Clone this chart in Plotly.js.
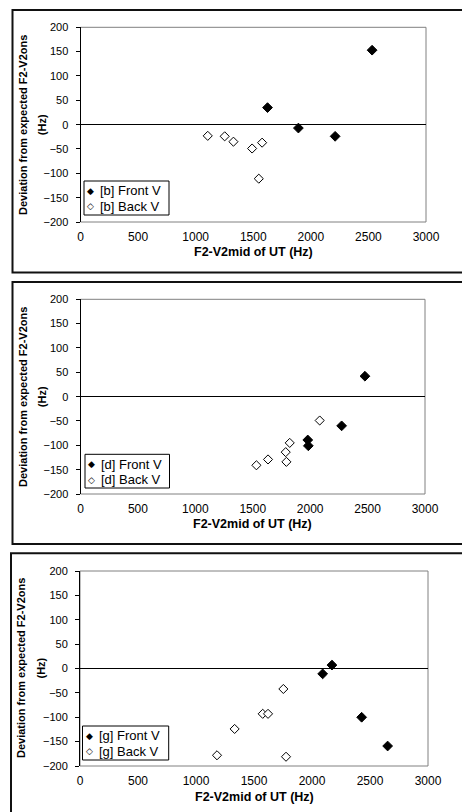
<!DOCTYPE html>
<html><head><meta charset="utf-8">
<script src="https://cdn.plot.ly/plotly-3.0.1.min.js"></script>
<style>html,body{margin:0;padding:0;background:#fff}#chart{width:462px;height:812px}</style>
</head><body><div id="chart"></div>
<script>
// ---- data ----
const xTickVals = [0, 500, 1000, 1500, 2000, 2500, 3000];
const yTickVals = [-200, -150, -100, -50, 0, 50, 100, 150, 200];
const frontNames = ["[b] Front V", "[d] Front V", "[g] Front V"];
const backNames = ["[b] Back V", "[d] Back V", "[g] Back V"];
const bFrontX = [1624, 1892, 2211, 2532];
const bFrontY = [35, -7, -24, 153];
const bBackX = [1105, 1252, 1328, 1490, 1577, 1548];
const bBackY = [-23, -24, -35, -49, -37, -111];
const dFrontX = [2477, 2274, 1979, 1984];
const dFrontY = [42, -60, -89, -101];
const dBackX = [2083, 1822, 1787, 1793, 1633, 1532];
const dBackY = [-49, -95, -114, -134, -129, -141];
const gFrontX = [2092, 2172, 2428, 2652];
const gFrontY = [-11, 7, -100, -159];
const gBackX = [1753, 1575, 1621, 1333, 1181, 1776];
const gBackY = [-42, -93, -93, -124, -178, -181];
const yTitleLine1 = "Deviation from expected F2-V2ons";
const yTitleLine2 = "(Hz)";
const xTitle = "F2-V2mid of UT (Hz)";

// ---- layout geometry (pixels) ----
const W = 462, H = 812;
const px = v => v / W, py = v => 1 - v / H;
const panels = [
  {fx: bFrontX, fy: bFrontY, bx: bBackX, by: bBackY,
   plot: [80.5, 426, 27.3, 222], frame: [12.5, 10, 272.5], leg: [84, 181, 169, 215], xt: 252, yt1: 22.3, yt2: 41.5},
  {fx: dFrontX, fy: dFrontY, bx: dBackX, by: dBackY,
   plot: [80.5, 425, 299.3, 494], frame: [12.5, 282, 544], leg: [85, 454.3, 169.5, 488], xt: 523.5, yt1: 22.3, yt2: 41.5},
  {fx: gFrontX, fy: gFrontY, bx: gBackX, by: gBackY,
   plot: [80, 428, 571, 766], frame: [11, 553.3, 816], leg: [82.5, 726, 168.7, 760], xt: 797, yt1: 20.5, yt2: 40}
];

const FONT = "Liberation Sans, Arial, sans-serif";
const traces = [], shapes = [], annotations = [];
const layout = {
  width: W, height: H, margin: {l: 0, r: 0, t: 0, b: 0},
  paper_bgcolor: "#fff", plot_bgcolor: "#fff", showlegend: false,
  font: {family: FONT, color: "#000"}
};

panels.forEach((p, i) => {
  const n = i === 0 ? "" : String(i + 1);
  const xa = "x" + n, ya = "y" + n;
  const [l, r, t, b] = p.plot;
  layout["xaxis" + n] = {
    domain: [px(l), px(r)], range: [0, 3000], anchor: ya,
    tickvals: xTickVals, ticks: "", showgrid: false, zeroline: false, showline: false,
    tickfont: {family: FONT, size: 12, color: "#000"}, ticklabelstandoff: 6, fixedrange: true
  };
  layout["yaxis" + n] = {
    domain: [py(b), py(t)], range: [-200, 200], anchor: xa,
    tickvals: yTickVals, ticks: "outside", ticklen: 4, tickcolor: "#000", tickwidth: 1,
    showgrid: false, zeroline: true, zerolinecolor: "#000", zerolinewidth: 1,
    showline: true, linecolor: "#000", linewidth: 1,
    tickfont: {family: FONT, size: 11, color: "#000"}, ticklabelstandoff: 5, fixedrange: true
  };
  // grey plot-area border
  shapes.push({type: "rect", xref: xa + " domain", yref: ya + " domain", x0: 0, x1: 1, y0: 0, y1: 1,
               line: {color: "#808080", width: 1}, layer: "below"});
  // outer frame
  shapes.push({type: "rect", xref: "paper", yref: "paper",
               x0: px(p.frame[0]), x1: px(W + 3), y0: py(p.frame[2]), y1: py(p.frame[1]),
               line: {color: "#111", width: 2}, layer: "below"});
  // legend box
  const [ll, lt, lr, lb] = p.leg;
  shapes.push({type: "rect", xref: "paper", yref: "paper", x0: px(ll), x1: px(lr), y0: py(lb), y1: py(lt),
               line: {color: "#000", width: 1}, fillcolor: "#fff", layer: "above"});
  const rows = [lt + 9.7, lt + 25.2];
  const names = [frontNames[i], backNames[i]];
  const syms = ["\u25C6", "\u25C7"];
  rows.forEach((ry, k) => {
    annotations.push({xref: "paper", yref: "paper", x: px(ll + 6.5), y: py(ry), text: syms[k],
      showarrow: false, xanchor: "center", yanchor: "middle", font: {family: "DejaVu Sans", size: 9, color: "#000"}});
    annotations.push({xref: "paper", yref: "paper", x: px(ll + 14), y: py(ry), text: names[k],
      showarrow: false, xanchor: "left", yanchor: "middle", font: {family: FONT, size: 13, color: "#000"}});
  });
  // axis titles
  const cy = (t + b) / 2;
  annotations.push({xref: "paper", yref: "paper", x: px(p.yt1), y: py(cy), text: "<b>" + yTitleLine1 + "</b>",
    textangle: -90, showarrow: false, xanchor: "center", yanchor: "middle", font: {family: FONT, size: 11, color: "#000"}});
  annotations.push({xref: "paper", yref: "paper", x: px(p.yt2), y: py(cy), text: "<b>" + yTitleLine2 + "</b>",
    textangle: -90, showarrow: false, xanchor: "center", yanchor: "middle", font: {family: FONT, size: 11, color: "#000"}});
  annotations.push({xref: "paper", yref: "paper", x: px((l + r) / 2), y: py(p.xt), text: "<b>" + xTitle + "</b>",
    showarrow: false, xanchor: "center", yanchor: "middle", font: {family: FONT, size: 12.5, color: "#000"}});

  traces.push({type: "scatter", mode: "markers", x: p.fx, y: p.fy, xaxis: xa, yaxis: ya, name: frontNames[i],
    marker: {symbol: "diamond", size: 7.5, color: "#000", line: {color: "#000", width: 1}}, cliponaxis: false});
  traces.push({type: "scatter", mode: "markers", x: p.bx, y: p.by, xaxis: xa, yaxis: ya, name: backNames[i],
    marker: {symbol: "diamond", size: 7, color: "#fff", line: {color: "#000", width: 1}}, cliponaxis: false});
});
layout.shapes = shapes;
layout.annotations = annotations;
Plotly.newPlot("chart", traces, layout, {displayModeBar: false, staticPlot: true});
</script></body></html>
